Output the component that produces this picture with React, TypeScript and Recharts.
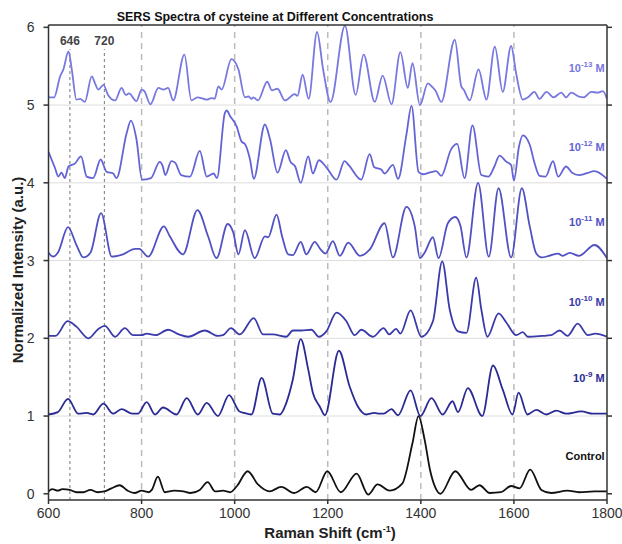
import React from 'react';
import { LineChart, Line, XAxis, YAxis, ReferenceLine, ReferenceDot } from 'recharts';

// [Raman shift (cm-1), normalized intensity + offset]
const control: [number, number][] = [
  [600, 0.03], [608, 0.06], [620, 0.04], [630, 0.06], [646, 0.05], [660, 0.02], [675, 0.02], [690, 0.05],
  [705, 0.02], [720, 0.03], [735, 0.07], [753, 0.11], [770, 0.04], [785, 0.01], [800, 0.04], [815, 0.02],
  [822, 0.05], [835, 0.22], [850, 0.02], [870, 0.04], [890, 0.03], [905, 0.01], [925, 0.05], [942, 0.15],
  [958, 0.03], [975, 0.04], [990, 0.02], [1005, 0.1], [1028, 0.29], [1050, 0.12], [1075, 0.03], [1100, 0.09],
  [1128, 0.01], [1155, 0.09], [1174, 0.02], [1199, 0.29], [1228, 0.02], [1262, 0.26], [1287, -0.01], [1307, 0.12],
  [1333, 0.04], [1360, 0.13], [1382, 0.65], [1395, 1.0], [1408, 0.7], [1420, 0.3], [1432, 0.07], [1442, 0.0],
  [1474, 0.29], [1508, 0.05], [1526, 0.11], [1548, 0.01], [1572, 0.02], [1594, 0.1], [1612, 0.07], [1635, 0.31],
  [1659, 0.05], [1680, 0.01], [1715, 0.04], [1740, 0.02], [1773, 0.03], [1800, 0.03],
];

const conc9: [number, number][] = [
  [600, 1.02], [620, 1.05], [642, 1.22], [664, 1.03], [682, 1.04], [696, 1.02], [718, 1.16], [739, 1.03],
  [757, 1.09], [780, 1.03], [792, 1.03], [811, 1.18], [829, 1.02], [846, 1.11], [875, 1.02], [897, 1.23],
  [921, 1.02], [940, 1.17], [964, 1.0], [988, 1.27], [1010, 1.06], [1020, 1.04], [1036, 1.02], [1058, 1.49],
  [1082, 1.03], [1097, 1.02], [1111, 1.17], [1125, 1.47], [1142, 1.99], [1158, 1.6], [1168, 1.3], [1183, 1.12],
  [1194, 1.01], [1224, 1.84], [1247, 1.38], [1265, 1.12], [1283, 1.02], [1300, 1.04], [1312, 1.03], [1320, 1.03],
  [1337, 1.09], [1351, 1.01], [1378, 1.33], [1399, 1.0], [1423, 1.23], [1447, 1.02], [1468, 1.19], [1480, 1.05],
  [1501, 1.36], [1532, 1.0], [1555, 1.65], [1576, 1.34], [1597, 1.02], [1610, 1.3], [1629, 1.02], [1648, 1.08],
  [1670, 1.02], [1691, 1.07], [1712, 1.03], [1745, 1.06], [1770, 1.03], [1800, 1.03],
];

const conc10: [number, number][] = [
  [600, 2.03], [615, 2.03], [641, 2.22], [660, 2.15], [686, 2.0], [707, 2.12], [721, 2.16], [743, 2.02],
  [764, 2.13], [782, 2.04], [800, 2.04], [811, 2.06], [830, 2.04], [857, 2.11], [880, 2.05], [900, 2.02],
  [936, 2.1], [964, 2.03], [975, 2.04], [992, 2.13], [1011, 2.05], [1041, 2.26], [1061, 2.05], [1082, 2.05],
  [1111, 2.02], [1125, 2.1], [1143, 2.1], [1165, 2.11], [1181, 2.02], [1197, 2.09], [1219, 2.33], [1240, 2.22],
  [1258, 2.04], [1272, 2.11], [1297, 2.02], [1320, 2.13], [1332, 2.05], [1347, 2.12], [1356, 2.06], [1378, 2.36],
  [1401, 2.02], [1426, 2.22], [1446, 2.99], [1462, 2.37], [1480, 2.09], [1498, 2.07], [1519, 2.78], [1530, 2.37],
  [1543, 2.02], [1567, 2.32], [1584, 2.2], [1605, 2.04], [1619, 2.08], [1630, 2.02], [1660, 2.03], [1680, 2.04],
  [1698, 2.1], [1715, 2.03], [1737, 2.19], [1759, 2.04], [1775, 2.06], [1800, 2.02],
];

const conc11: [number, number][] = [
  [600, 3.1], [610, 3.05], [620, 3.1], [642, 3.43], [660, 3.2], [675, 3.04], [690, 3.1], [713, 3.61],
  [736, 3.05], [760, 3.08], [786, 3.15], [795, 3.15], [814, 3.05], [848, 3.44], [860, 3.32], [889, 3.08],
  [920, 3.65], [943, 3.31], [961, 3.03], [985, 3.47], [997, 3.36], [1008, 3.08], [1022, 3.39], [1043, 3.03],
  [1065, 3.31], [1072, 3.3], [1090, 3.59], [1102, 3.31], [1115, 3.08], [1125, 3.07], [1142, 3.24], [1154, 3.08],
  [1172, 3.24], [1185, 3.14], [1195, 3.09], [1211, 3.25], [1226, 3.06], [1244, 3.23], [1269, 3.06], [1290, 3.14],
  [1322, 3.48], [1340, 3.04], [1369, 3.69], [1387, 3.44], [1398, 3.03], [1408, 3.1], [1426, 3.3], [1438, 3.03],
  [1458, 3.48], [1474, 3.56], [1485, 3.45], [1498, 3.04], [1523, 4.0], [1546, 3.05], [1567, 3.93], [1594, 3.04],
  [1617, 3.93], [1634, 3.44], [1648, 3.09], [1660, 3.04], [1675, 3.06], [1695, 3.09], [1705, 3.06], [1720, 3.1],
  [1740, 3.06], [1773, 3.2], [1800, 3.03],
];

const conc12: [number, number][] = [
  [600, 4.4], [614, 4.19], [621, 4.08], [628, 4.13], [635, 4.06], [643, 4.21], [657, 4.25], [670, 4.34],
  [682, 4.08], [696, 4.06], [712, 4.3], [725, 4.14], [739, 4.12], [746, 4.06], [768, 4.64], [777, 4.8],
  [789, 4.56], [801, 4.04], [820, 4.06], [839, 4.27], [845, 4.22], [851, 4.1], [864, 4.28], [872, 4.26],
  [885, 4.1], [904, 4.08], [925, 4.41], [940, 4.08], [955, 4.12], [962, 4.06], [979, 4.9], [983, 4.93],
  [990, 4.86], [1004, 4.73], [1015, 4.53], [1022, 4.5], [1033, 4.3], [1041, 4.05], [1065, 4.75], [1076, 4.56],
  [1092, 4.13], [1110, 4.42], [1120, 4.27], [1130, 4.21], [1142, 4.0], [1158, 4.34], [1168, 4.12], [1181, 4.29],
  [1197, 4.2], [1219, 4.04], [1236, 4.28], [1246, 4.22], [1272, 4.04], [1290, 4.37], [1300, 4.2], [1315, 4.17],
  [1322, 4.12], [1340, 4.23], [1351, 4.05], [1369, 4.62], [1380, 4.99], [1395, 4.14], [1405, 4.11], [1418, 4.13],
  [1433, 4.15], [1444, 4.09], [1465, 4.43], [1478, 4.5], [1494, 4.06], [1511, 4.74], [1530, 4.1], [1545, 4.08],
  [1558, 4.21], [1569, 4.35], [1584, 4.27], [1594, 4.23], [1600, 4.03], [1611, 4.47], [1619, 4.61], [1634, 4.49],
  [1644, 4.26], [1655, 4.09], [1668, 4.08], [1684, 4.28], [1695, 4.08], [1712, 4.21], [1725, 4.13], [1740, 4.1],
  [1755, 4.12], [1773, 4.15], [1800, 4.05],
];

const conc13: [number, number][] = [
  [600, 5.1], [612, 5.1], [625, 5.37], [632, 5.46], [643, 5.69], [650, 5.46], [660, 5.07], [668, 5.08],
  [678, 5.04], [693, 5.37], [700, 5.28], [707, 5.2], [718, 5.26], [728, 5.13], [743, 5.06], [757, 5.22],
  [766, 5.13], [773, 5.15], [789, 5.05], [800, 5.2], [806, 5.18], [819, 5.01], [836, 5.22], [847, 5.2],
  [857, 5.22], [868, 5.06], [892, 5.65], [907, 5.06], [920, 5.1], [940, 5.07], [950, 5.09], [957, 5.08],
  [965, 5.24], [972, 5.2], [993, 5.59], [1008, 5.46], [1022, 5.1], [1030, 5.11], [1036, 5.08], [1040, 5.1],
  [1050, 5.06], [1070, 5.3], [1080, 5.19], [1092, 5.21], [1108, 5.06], [1129, 5.14], [1135, 5.12], [1146, 5.39],
  [1159, 5.08], [1177, 5.94], [1190, 5.46], [1206, 5.04], [1237, 6.02], [1260, 5.13], [1277, 5.65], [1301, 5.04],
  [1318, 5.38], [1337, 5.01], [1356, 5.68], [1372, 5.22], [1382, 5.54], [1398, 5.0], [1415, 5.28], [1425, 5.23],
  [1432, 5.18], [1444, 5.04], [1473, 5.84], [1487, 5.24], [1492, 5.2], [1505, 5.06], [1524, 5.46], [1541, 5.07],
  [1559, 5.75], [1576, 5.17], [1594, 5.76], [1605, 5.4], [1619, 5.07], [1630, 5.1], [1644, 5.17], [1655, 5.08],
  [1670, 5.17], [1685, 5.1], [1702, 5.16], [1712, 5.1], [1723, 5.16], [1740, 5.11], [1750, 5.1], [1766, 5.17],
  [1780, 5.16], [1791, 5.18], [1800, 5.08],
];

const xTicks = [600, 800, 1000, 1200, 1400, 1600, 1800];
const yTicks = [0, 1, 2, 3, 4, 5, 6];
const gridLevels = [1, 2, 3, 4, 5];
const peakMarks = [646, 720];
const guideLines = [800, 1000, 1200, 1400, 1600];

const font = '"Liberation Sans", Arial, sans-serif';

const series = [
  { key: 'control', data: control, color: '#111111', exp: null, labelY: 0.44 },
  { key: '1e-9', data: conc9, color: '#2a2a94', exp: '-9', labelY: 1.44 },
  { key: '1e-10', data: conc10, color: '#3a3aaa', exp: '-10', labelY: 2.42 },
  { key: '1e-11', data: conc11, color: '#5151c4', exp: '-11', labelY: 3.44 },
  { key: '1e-12', data: conc12, color: '#6464d6', exp: '-12', labelY: 4.41 },
  { key: '1e-13', data: conc13, color: '#7878e0', exp: '-13', labelY: 5.43 },
];

const toPoints = (arr: [number, number][]) => arr.map(([x, y]) => ({ x, y }));

const ConcLabel = (props: any) => {
  const { viewBox, exp, color } = props;
  const x = viewBox.x + viewBox.width / 2;
  const y = viewBox.y + viewBox.height / 2;
  return (
    <text x={x} y={y} textAnchor="end" fill={color} fontSize={11} fontWeight="bold" fontFamily={font}>
      {exp ? (
        <>
          10<tspan dy={-5} fontSize={8}>{exp}</tspan>
          <tspan dy={5}> M</tspan>
        </>
      ) : (
        'Control'
      )}
    </text>
  );
};

export default function App() {
  return (
    <div style={{ position: 'absolute', left: 0, top: 0, width: 622, height: 544, background: '#fff', fontFamily: font, overflow: 'hidden' }}>
      <LineChart width={622} height={544} margin={{ top: 24, right: 7, left: 8, bottom: 13 }}>
        <XAxis
          type="number"
          dataKey="x"
          domain={[600, 1800]}
          ticks={xTicks}
          allowDataOverflow
          height={31}
          stroke="#333"
          strokeWidth={1.5}
          tickSize={4}
          tickMargin={4}
          tick={{ fill: '#333', fontSize: 14, fontFamily: font }}
        />
        <XAxis
          xAxisId="top"
          orientation="top"
          type="number"
          dataKey="x"
          domain={[600, 1800]}
          allowDataOverflow
          height={1}
          stroke="#333"
          strokeWidth={1.5}
          tick={false}
          tickLine={false}
        />
        <YAxis
          type="number"
          domain={[-0.08, 6.03]}
          ticks={yTicks}
          allowDataOverflow
          width={40.5}
          stroke="#333"
          strokeWidth={1.5}
          tickSize={5}
          tickMargin={9}
          tick={{ fill: '#333', fontSize: 14, fontFamily: font }}
        />
        <YAxis
          yAxisId="right"
          orientation="right"
          type="number"
          domain={[-0.08, 6.03]}
          ticks={yTicks}
          allowDataOverflow
          width={8}
          stroke="#333"
          strokeWidth={1.5}
          tickSize={5}
          tickFormatter={() => ''}
        />
        {gridLevels.map((v) => (
          <ReferenceLine key={'g' + v} y={v} stroke="#dddddd" strokeWidth={1} />
        ))}
        {guideLines.map((v) => (
          <ReferenceLine key={'v' + v} x={v} stroke="#bbbbbb" strokeWidth={1.5} strokeDasharray="6 5" />
        ))}
        {peakMarks.map((v) => (
          <ReferenceLine
            key={'p' + v}
            segment={[{ x: v, y: -0.08 }, { x: v, y: 5.72 }]}
            stroke="#777"
            strokeWidth={1}
            strokeDasharray="3 3"
          />
        ))}
        {peakMarks.map((v) => (
          <ReferenceDot
            key={'pl' + v}
            x={v}
            y={5.83}
            r={1}
            fill="none"
            stroke="none"
            label={{ value: String(v), position: 'center', fill: '#444', fontSize: 12, fontWeight: 'bold', fontFamily: font }}
          />
        ))}
        {series.map((s) => (
          <Line
            key={s.key}
            data={toPoints(s.data)}
            dataKey="y"
            type="monotone"
            stroke={s.color}
            strokeWidth={1.8}
            dot={false}
            activeDot={false}
            isAnimationActive={false}
          />
        ))}
        {series.map((s) => (
          <ReferenceDot
            key={'l' + s.key}
            x={1795}
            y={s.labelY}
            r={1}
            fill="none"
            stroke="none"
            label={(p: any) => <ConcLabel {...p} exp={s.exp} color={s.color} />}
          />
        ))}
      </LineChart>
      <div style={{ position: 'absolute', left: 0, top: 10, width: 550, textAlign: 'center', fontSize: 12.5, fontWeight: 'bold', color: '#111', lineHeight: '14px' }}>
        SERS Spectra of cysteine at Different Concentrations
      </div>
      <div style={{ position: 'absolute', left: 130, top: 524, width: 400, textAlign: 'center', fontSize: 15, fontWeight: 'bold', color: '#222', lineHeight: '17px', whiteSpace: 'nowrap' }}>
        Raman Shift (cm<span style={{ fontSize: 9, position: 'relative', top: -6 }}>-1</span>)
      </div>
      <div
        style={{
          position: 'absolute',
          left: 17,
          top: 270,
          transform: 'translate(-50%, -50%) rotate(-90deg)',
          whiteSpace: 'nowrap',
          fontSize: 15,
          fontWeight: 'bold',
          color: '#222',
          lineHeight: '17px',
        }}
      >
        Normalized Intensity (a.u.)
      </div>
    </div>
  );
}
